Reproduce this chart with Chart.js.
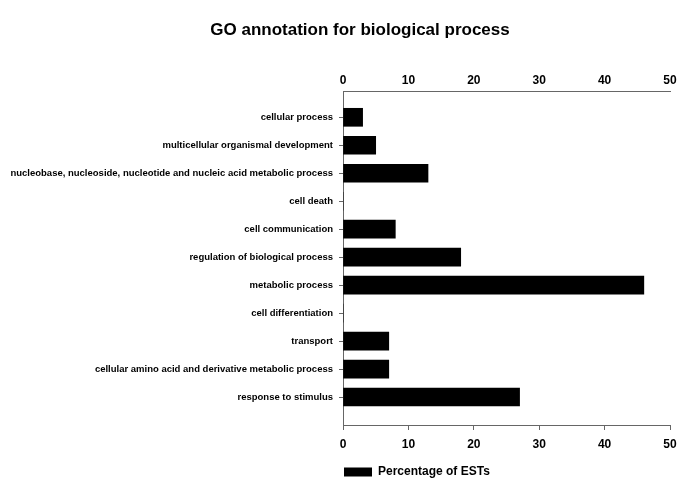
<!DOCTYPE html>
<html>
<head>
<meta charset="utf-8">
<script src="https://cdn.jsdelivr.net/npm/chart.js@4/dist/chart.umd.min.js"></script>
<style>
  html, body { margin: 0; padding: 0; background: #fff; }
  #wrap { position: relative; width: 685px; height: 495px; }
  #title {
    position: absolute; top: 20px; left: 0; width: 685px; padding-left: 35px; box-sizing: border-box;
    text-align: center; line-height: 20px; font: bold 17px 'Liberation Sans', Arial, sans-serif; color: #000;
  }
  canvas { position: absolute; top: 0; left: 0; }
</style>
</head>
<body>
<div id="wrap">
  <canvas id="goChart" width="685" height="495"></canvas>
  <div id="title">GO annotation for biological process</div>
</div>
<script>
// GO terms, top to bottom
const categories = [
  'cellular process',
  'multicellular organismal development',
  'nucleobase, nucleoside, nucleotide and nucleic acid metabolic process',
  'cell death',
  'cell communication',
  'regulation of biological process',
  'metabolic process',
  'cell differentiation',
  'transport',
  'cellular amino acid and derivative metabolic process',
  'response to stimulus'
];
const percentages = [3, 5, 13, 0, 8, 18, 46, 0, 7, 7, 27];
const xTicks = [0, 10, 20, 30, 40, 50];

const FONT = 'Liberation Sans, Arial, sans-serif';
const AXIS_GRAY = '#666666';

const xAxisBase = {
  type: 'linear',
  min: xTicks[0],
  max: xTicks[xTicks.length - 1],
  ticks: {
    stepSize: xTicks[1] - xTicks[0],
    color: '#000',
    font: { family: FONT, size: 12, weight: 'bold' }
  },
  border: { display: true, color: AXIS_GRAY, width: 1 }
};

const ctx = document.getElementById('goChart').getContext('2d');

new Chart(ctx, {
  type: 'bar',
  data: {
    datasets: [{
      label: 'Percentage of ESTs',
      data: categories.map((c, i) => ({ x: percentages[i], y: i })),
      backgroundColor: '#000',
      borderWidth: 0,
      barThickness: 18,
      xAxisID: 'x',
      yAxisID: 'y'
    }]
  },
  options: {
    indexAxis: 'y',
    responsive: false,
    animation: false,
    layout: { padding: { left: 0, right: 15, top: 50.4, bottom: 7 } },
    plugins: {
      title: { display: false },
      legend: {
        position: 'bottom',
        align: 'start',
        fullSize: false,
        labels: {
          boxWidth: 28,
          boxHeight: 9,
          padding: 1,
          color: '#000',
          font: { family: FONT, size: 12, weight: 'bold' }
        }
      },
      tooltip: { enabled: false }
    },
    scales: {
      x: Object.assign({}, xAxisBase, {
        position: 'bottom',
        grid: { display: true, drawOnChartArea: false, drawTicks: true, tickLength: 5, color: AXIS_GRAY },
        ticks: Object.assign({}, xAxisBase.ticks, { padding: 7 }),
        afterFit: (s) => { s.height = 40; }
      }),
      x2: Object.assign({}, xAxisBase, {
        position: 'top',
        grid: { display: false, drawTicks: false },
        ticks: Object.assign({}, xAxisBase.ticks, { padding: 3 }),
        afterFit: (s) => { s.height = 40.6; }
      }),
      y: {
        type: 'linear',
        position: 'left',
        reverse: true,
        offset: false,
        min: -0.94,
        max: 11.0,
        grid: { display: true, offset: false, drawOnChartArea: false, drawTicks: true, tickLength: 4, color: AXIS_GRAY },
        border: { display: true, color: AXIS_GRAY, width: 1 },
        afterBuildTicks: (s) => {
          s.ticks = s.ticks.filter(t => Math.abs(t.value - Math.round(t.value)) < 1e-6 && t.value >= 0 && t.value < categories.length);
        },
        ticks: {
          stepSize: 1,
          autoSkip: false,
          padding: 6,
          color: '#000',
          font: { family: FONT, size: 9.5, weight: 'bold' },
          callback: (v) => categories[Math.round(v)]
        },
        afterFit: (s) => { s.width = 343; }
      }
    }
  }
});
</script>
</body>
</html>
